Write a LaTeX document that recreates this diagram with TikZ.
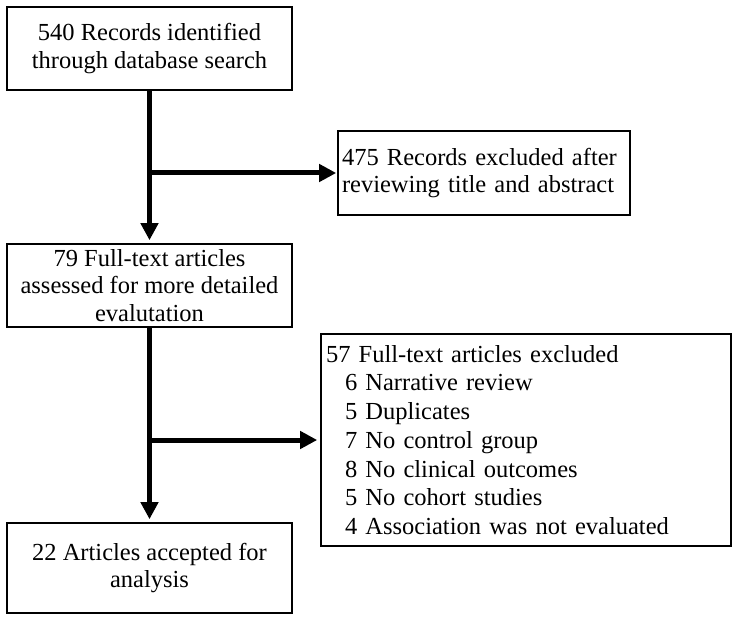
\documentclass[tikz,border=0pt]{standalone}
\usepackage{fontspec}
\setmainfont{Liberation Serif}
\usetikzlibrary{arrows.meta}
\begin{document}
\begin{tikzpicture}[x=1pt,y=-1pt,
  box/.style={draw=black, line width=1.6pt, inner ysep=2pt, inner xsep=4pt,
    font=\fontsize{24.5}{27.5}\selectfont},
  flow/.style={line width=5pt, -{Triangle[length=17pt,width=17pt]}, shorten >=3pt},
  flowline/.style={line width=5pt}]
\useasboundingbox (0,0) rectangle (738,620);
\node[box, minimum width=285pt, minimum height=83pt, align=center] (b1) at (149.5,48.5)
  {540 Records identified\\through database search};
\node[box, minimum width=292pt, minimum height=84pt, text width=284pt, align=left] (b2) at (484,173)
  {475 Records excluded after\\reviewing title and abstract};
\node[box, minimum width=285pt, minimum height=83pt, align=center] (b3) at (149.5,285.5)
  {79 Full-text articles\\assessed for more detailed\\evalutation};
\node[box, minimum width=285pt, minimum height=90pt, align=center] (b4) at (149.5,568)
  {22 Articles accepted for\\analysis};
\node[box, minimum width=410pt, minimum height=212pt, text width=400pt, inner xsep=5pt, align=left,
  font=\fontsize{24.5}{28.7}\selectfont] (b5) at (526,440)
  {57 Full-text articles excluded\\
   \hspace*{19pt}6 Narrative review\\
   \hspace*{19pt}5 Duplicates\\
   \hspace*{19pt}7 No control group\\
   \hspace*{19pt}8 No clinical outcomes\\
   \hspace*{19pt}5 No cohort studies\\
   \hspace*{19pt}4 Association was not evaluated};
\coordinate (j1) at (b1.south |- b2.west);
\coordinate (j2) at (b3.south |- b5.west);
\draw[flow] (b1.south) -- (b3.north);
\draw[flow, shorten >=1pt] (j1) -- (b2.west);
\draw[flow] (b3.south) -- (b4.north);
\draw[flow] (j2) -- (b5.west);
\end{tikzpicture}
\end{document}
